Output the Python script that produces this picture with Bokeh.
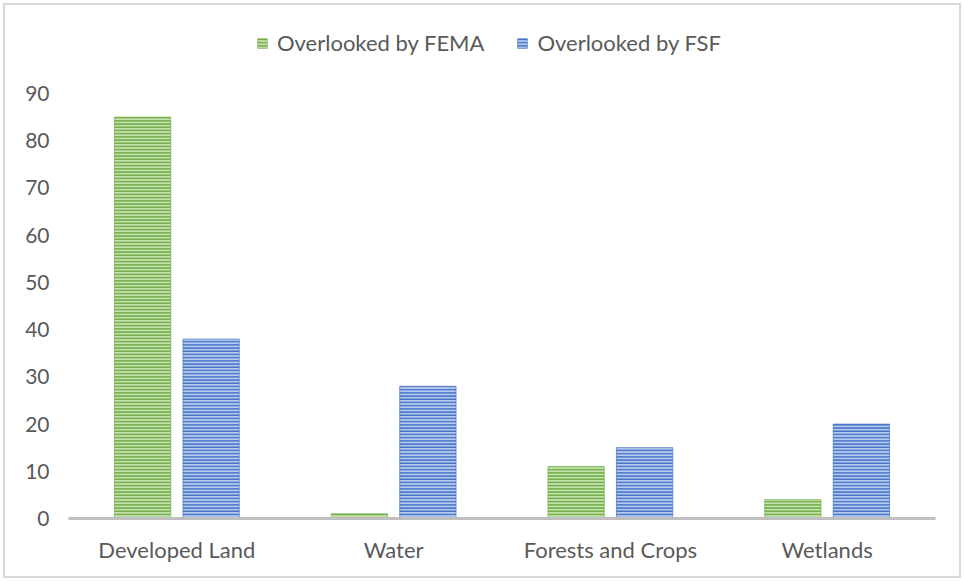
from bokeh.plotting import figure
from bokeh.models import FactorRange, FixedTicker, Legend, LegendItem, ColumnDataSource
from bokeh.transform import dodge
from bokeh.embed import file_html
from bokeh.resources import INLINE

categories = ["Developed Land", "Water", "Forests and Crops", "Wetlands"]
fema = [85, 1, 11, 4]
fsf = [38, 28, 15, 20]
y_ticks = [0, 10, 20, 30, 40, 50, 60, 70, 80, 90]
series_names = ["Overlooked by FEMA", "Overlooked by FSF"]

FONT = "Lato"
TXT = "#595959"

src = ColumnDataSource(dict(cat=categories, fema=fema, fsf=fsf))

p = figure(
    width=964, height=581,
    x_range=FactorRange(*categories, range_padding=0),
    y_range=(0, 105.46),
    output_backend="svg", toolbar_location=None,
    min_border_left=68, min_border_right=29, min_border_top=20, min_border_bottom=63,
)
p.x_range.range_padding = 0
p.outline_line_color = None
p.grid.visible = False
p.background_fill_color = None
p.border_fill_color = None
p.styles = {"box-shadow": "inset 0 0 0 3px white, inset 0 0 0 5px #d9d9d9",
            "background-color": "white"}

bw = 0.26
off = 0.158
r1 = p.vbar(x=dodge("cat", -off, range=p.x_range), top="fema", width=bw, source=src,
            fill_color="#c3e0ad", line_color="#70ad47", line_width=0.8, line_alpha=0.8,
            hatch_pattern="horizontal_line", hatch_color="#70ad47", hatch_scale=3.2, hatch_weight=1.7)
r2 = p.vbar(x=dodge("cat", off, range=p.x_range), top="fsf", width=bw, source=src,
            fill_color="#b6cbef", line_color="#4472c4", line_width=0.8, line_alpha=0.8,
            hatch_pattern="horizontal_line", hatch_color="#4472c4", hatch_scale=3.2, hatch_weight=1.7)

# y axis
p.yaxis.ticker = FixedTicker(ticks=y_ticks)
p.yaxis.axis_line_color = None
p.yaxis.major_tick_line_color = None
p.yaxis.minor_tick_line_color = None
p.yaxis.major_label_standoff = 13
p.yaxis.major_label_text_font = FONT
p.yaxis.major_label_text_font_size = "21px"
p.yaxis.major_label_text_color = TXT

# x axis
p.xaxis.axis_line_color = "#bfbfbf"
p.xaxis.axis_line_width = 3
p.xaxis.major_tick_line_color = None
p.xaxis.minor_tick_line_color = None
p.xaxis.major_label_standoff = 11
p.xaxis.major_label_text_font = FONT
p.xaxis.major_label_text_font_size = "22px"
p.xaxis.major_label_text_color = TXT

legend = Legend(items=[LegendItem(label=series_names[0], renderers=[r1]),
                       LegendItem(label=series_names[1], renderers=[r2])],
                orientation="horizontal", location=(188, 462))
legend.label_text_font = FONT
legend.label_text_font_size = "22px"
legend.label_text_color = TXT
legend.glyph_width = 12
legend.glyph_height = 12
legend.label_standoff = 9
legend.spacing = 32
legend.padding = 0
legend.margin = 0
legend.border_line_color = None
legend.background_fill_alpha = 0
p.add_layout(legend, "center")

open("out.html", "w").write(file_html(p, INLINE))
